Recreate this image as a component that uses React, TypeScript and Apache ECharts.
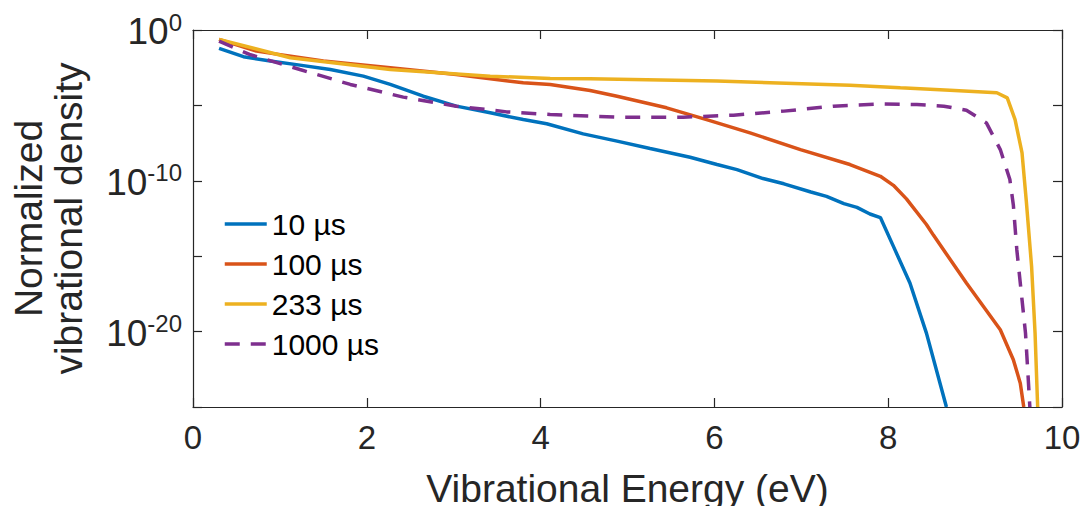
import React, { useEffect, useRef } from 'react';
import * as echarts from 'echarts';

// Vibrational energy (eV) and log10 of normalized vibrational density
const energy10us = [0.3, 0.58, 0.89, 1.23, 1.58, 1.96, 2.27, 2.65, 3.03, 3.42, 3.8, 4.07, 4.49, 4.88, 5.26, 5.72, 6.03, 6.26, 6.56, 6.8, 7.11, 7.29, 7.49, 7.64, 7.79, 7.91, 8.06, 8.25, 8.44, 8.67];
const logDensity10us = [-1.22, -1.77, -2.06, -2.33, -2.62, -3.06, -3.61, -4.39, -5.05, -5.49, -5.94, -6.22, -6.89, -7.37, -7.86, -8.44, -8.92, -9.26, -9.85, -10.2, -10.74, -11.03, -11.51, -11.76, -12.2, -12.44, -14.35, -16.78, -20.1, -25.0];

const energy100us = [0.3, 0.73, 1.5, 2.27, 3.03, 3.8, 4.11, 4.57, 4.88, 5.45, 5.91, 6.41, 6.99, 7.56, 7.91, 8.06, 8.21, 8.44, 8.52, 8.9, 9.29, 9.44, 9.52, 9.56];
const logDensity100us = [-0.62, -1.4, -2.06, -2.5, -2.95, -3.5, -3.62, -4.01, -4.39, -5.16, -5.94, -6.82, -7.93, -8.92, -9.7, -10.3, -11.2, -12.9, -13.6, -16.78, -19.88, -21.87, -23.42, -25.0];

const energy233us = [0.3, 1.12, 2.27, 3.42, 4.11, 4.57, 6.03, 7.56, 8.14, 8.71, 9.25, 9.37, 9.46, 9.54, 9.59, 9.65, 9.69, 9.72];
const logDensity233us = [-0.62, -1.84, -2.62, -3.06, -3.21, -3.24, -3.39, -3.66, -3.83, -3.99, -4.16, -4.5, -5.94, -8.15, -11.4, -15.68, -20.1, -25.0];

const energy1000us = [0.3, 0.65, 1.23, 1.81, 2.42, 3.03, 3.61, 4.11, 4.88, 5.64, 6.22, 6.8, 7.37, 7.94, 8.33, 8.64, 8.9, 9.13, 9.29, 9.4, 9.44, 9.48, 9.54, 9.58, 9.61, 9.63];
const logDensity1000us = [-0.74, -1.62, -2.62, -3.61, -4.45, -5.05, -5.43, -5.6, -5.78, -5.78, -5.65, -5.38, -5.05, -4.9, -4.94, -5.05, -5.32, -6.16, -7.93, -9.92, -11.6, -14.57, -17.89, -20.1, -22.98, -25.0];

const seriesNames = ['10 µs', '100 µs', '233 µs', '1000 µs'];
const seriesColors = ['#0072BD', '#D95319', '#EDB120', '#7E2F8E'];

const xTicks = { min: 0, max: 10, interval: 2 };
// y axis in decades (exponent of 10)
const yDecades = { min: -25, max: 0, interval: 5 };

const FONT = '"Liberation Sans", Arial, Helvetica, sans-serif';
const AXIS_COLOR = '#262626';

function toPairs(xs: number[], logs: number[]) {
  return xs.map((x, i) => [x, logs[i]]);
}

export default function App() {
  const ref = useRef<HTMLDivElement>(null);
  useEffect(() => {
    const chart = echarts.init(ref.current!, null, { renderer: 'svg' });
    const datasets = [
      toPairs(energy10us, logDensity10us),
      toPairs(energy100us, logDensity100us),
      toPairs(energy233us, logDensity233us),
      toPairs(energy1000us, logDensity1000us),
    ];
    const yLabel = (v: number) => {
      const p = Math.round(v);
      if (p % 10 !== 0) return '';
      return `{b|10}{s|${p === 0 ? 0 : p}}`;
    };
    const commonX = {
      type: 'value' as const,
      ...xTicks,
      axisLine: { onZero: false, lineStyle: { color: AXIS_COLOR, width: 1.2 } },
      axisTick: { inside: true, length: 9, lineStyle: { color: AXIS_COLOR, width: 1.2 } },
      splitLine: { show: false },
    };
    const commonY = {
      type: 'value' as const,
      ...yDecades,
      axisLine: { onZero: false, lineStyle: { color: AXIS_COLOR, width: 1.2 } },
      axisTick: { inside: true, length: 9, lineStyle: { color: AXIS_COLOR, width: 1.2 } },
      splitLine: { show: false },
    };
    chart.setOption({
      animation: false,
      backgroundColor: '#ffffff',
      grid: { left: 193, top: 30, right: 19, bottom: 99, containLabel: false, outerBoundsMode: 'none' },
      legend: {
        orient: 'vertical',
        left: 223,
        top: 209,
        padding: 0,
        itemWidth: 42,
        itemHeight: 14,
        itemGap: 10,
        itemStyle: { opacity: 0 },
        lineStyle: { width: 3.5 },
        textStyle: { fontSize: 30, lineHeight: 30, color: '#000', fontFamily: FONT },
        data: seriesNames,
      },
      xAxis: [
        {
          ...commonX,
          position: 'bottom',
          axisLabel: { fontSize: 33, color: AXIS_COLOR, fontFamily: FONT, margin: 14 },
          name: 'Vibrational Energy (eV)',
          nameLocation: 'middle',
          nameGap: 62,
          nameTextStyle: { fontSize: 39, color: AXIS_COLOR, fontFamily: FONT },
        },
        {
          ...commonX,
          position: 'top',
          axisLabel: { show: false },
        },
      ],
      yAxis: [
        {
          ...commonY,
          position: 'left',
          axisLabel: {
            formatter: yLabel,
            margin: 11,
            color: AXIS_COLOR,
            fontFamily: FONT,
            rich: {
              b: { fontSize: 37, fontFamily: FONT, color: AXIS_COLOR, verticalAlign: 'bottom', lineHeight: 40 },
              s: { fontSize: 24, fontFamily: FONT, color: AXIS_COLOR, verticalAlign: 'top', lineHeight: 24 },
            },
          },
          name: 'Normalized\nvibrational density',
          nameLocation: 'middle',
          nameGap: 105,
          nameTextStyle: { fontSize: 39, lineHeight: 40, color: AXIS_COLOR, fontFamily: FONT, align: 'center' },
        },
        {
          ...commonY,
          position: 'right',
          axisLabel: { show: false },
        },
      ],
      series: datasets.map((d, i) => ({
        name: seriesNames[i],
        type: 'line',
        xAxisIndex: 0,
        yAxisIndex: 0,
        data: d,
        symbol: 'none',
        showSymbol: false,
        clip: true,
        color: seriesColors[i],
        lineStyle: {
          color: seriesColors[i],
          width: 3.5,
          type: i === 3 ? [15, 11] : 'solid',
        },
      })),
    });
    return () => chart.dispose();
  }, []);
  return (
    <div
      ref={ref}
      style={{ position: 'absolute', left: 0, top: 0, width: 1081, height: 506 }}
    />
  );
}
